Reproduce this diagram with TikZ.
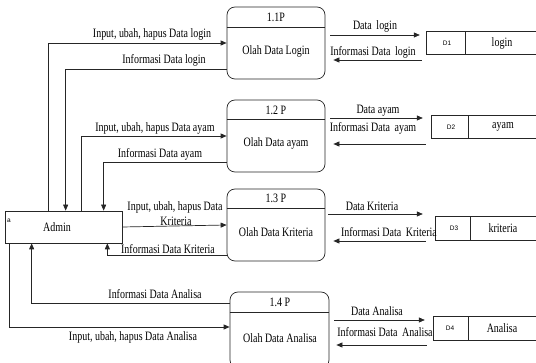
\documentclass[tikz,border=0pt]{standalone}
\usepackage{fontspec}
\setmainfont{Liberation Serif}[FakeStretch=0.78]
\newfontfamily\smallsans{Liberation Sans}
\usetikzlibrary{arrows.meta}
\begin{document}
\begin{tikzpicture}[x=1pt,y=-1pt,
  ln/.style={line width=0.7pt,draw=black!85},
  arr/.style={ln,-{Triangle[length=6pt,width=5pt]}},
  proc/.style={ln,rounded corners=8pt,inner sep=0pt,minimum width=98pt,minimum height=72pt},
  ent/.style={ln,inner sep=0pt,minimum width=117pt,minimum height=32pt},
  store/.style={inner sep=0pt,minimum width=110pt,minimum height=22pt},
  lbl/.style={inner sep=0pt,font=\fontsize{12.8}{13}\selectfont},
  tiny/.style={inner sep=0pt,font=\smallsans\fontsize{6.5}{7}\selectfont}]
\useasboundingbox (0,0) rectangle (536,363);
\clip (0,0) rectangle (536,363);
% processes
\node[proc] (p1) at (276,43) {};
\node[proc] (p2) at (276,136) {};
\node[proc] (p3) at (276,225) {};
\node[proc,minimum width=99pt,minimum height=76pt] (p4) at (279.5,330) {};
\draw[ln] (p1.west |- 0,27) -- (p1.east |- 0,27);
\draw[ln] (p2.west |- 0,119) -- (p2.east |- 0,119);
\draw[ln] (p3.west |- 0,208) -- (p3.east |- 0,208);
\draw[ln] (p4.west |- 0,312) -- (p4.east |- 0,312);
\node[lbl] (p1n) at (276,17) {1.1P};
\node[lbl] (p1t) at (276,51) {Olah Data Login};
\node[lbl] (p2n) at (276,110) {1.2 P};
\node[lbl] (p2t) at (276,143) {Olah Data ayam};
\node[lbl] (p3n) at (276,198) {1.3 P};
\node[lbl] (p3t) at (276,232) {Olah Data Kriteria};
\node[lbl] (p4n) at (280,302) {1.4 P};
\node[lbl] (p4t) at (280,338) {Olah Data Analisa};
% entity
\node[ent] (admin) at (63.5,227) {};
\node[lbl] (admint) at (57,227) {Admin};
\node[tiny] (admina) at (9,221) {a};
% data stores
\node[store] (d1) at (482,43) {};
\node[store,minimum width=105pt] (d2) at (484.5,127) {};
\node[store,minimum width=101pt,minimum height=23pt] (d3) at (486.5,228.5) {};
\node[store,minimum width=103pt,minimum height=23pt] (d4) at (485.5,328.5) {};
\foreach \d/\w in {d1/39,d2/37,d3/35,d4/35}{
  \draw[ln] (\d.north east) -- (\d.north west) -- (\d.south west) -- (\d.south east);
  \draw[ln] ([xshift=\w pt]\d.north west) -- ([xshift=\w pt]\d.south west);
}
\node[tiny] (d1n) at (447,43) {D1};
\node[lbl] (d1t) at (502,43) {login};
\node[tiny] (d2n) at (451,127) {D2};
\node[lbl] (d2t) at (503,127) {ayam};
\node[tiny] (d3n) at (454,228.5) {D3};
\node[lbl] (d3t) at (503,228.5) {kriteria};
\node[tiny] (d4n) at (450,328.5) {D4};
\node[lbl] (d4t) at (502,328.5) {Analisa};
% admin <-> processes
\draw[arr] ([xshift=44pt]admin.north west) |- (p1.west);
\draw[arr] ([yshift=-26pt]p1.west) -| ([xshift=61pt]admin.north west);
\draw[arr] ([xshift=77pt]admin.north west) |- (p2.west);
\draw[arr] ([yshift=-26pt]p2.west) -| ([xshift=99pt]admin.north west);
\draw[arr] (admin.east) -- (p3.west);
\draw[arr] ([yshift=-30pt]p3.west) -| ([xshift=-15pt]admin.south east);
\draw[arr] ([yshift=27pt]p4.west) -| ([xshift=27pt]admin.south west);
\draw[arr] ([xshift=5pt]admin.south west) |- ([yshift=3pt]p4.west);
\node[lbl] (l1) at (152,34) {Input, ubah, hapus Data login};
\node[lbl] (l2) at (164,60) {Informasi Data login};
\node[lbl] (l3) at (155,128) {Input, ubah, hapus Data ayam};
\node[lbl] (l4) at (160,154) {Informasi Data ayam};
\node[lbl] (l5) at (175,207) {Input, ubah, hapus Data};
\node[lbl] (l5b) at (176,221) {Kriteria};
\node[lbl] (l6) at (168,249) {Informasi Data Kriteria};
\node[lbl] (l7) at (155,294) {Informasi Data Analisa};
\node[lbl] (l8) at (133,337) {Input, ubah, hapus Data Analisa};
% processes <-> stores
\draw[arr] ([xshift=5pt,yshift=8pt]p1.east) -- ([xshift=-7pt,yshift=8pt]d1.west);
\draw[arr] ([xshift=-5pt,yshift=-17pt]d1.west) -- ([xshift=8pt,yshift=-17pt]p1.east);
\draw[arr] ([xshift=5pt,yshift=18pt]p2.east) -- ([xshift=-9pt,yshift=9pt]d2.west);
\draw[arr] ([xshift=-6pt,yshift=-17pt]d2.west) -- ([xshift=8pt,yshift=-8pt]p2.east);
\draw[arr] ([xshift=3pt,yshift=11pt]p3.east) -- ([xshift=-13pt,yshift=14.5pt]d3.west);
\draw[arr] ([xshift=-10pt,yshift=-12.5pt]d3.west) -- ([xshift=8pt,yshift=-16pt]p3.east);
\draw[arr] ([xshift=5pt,yshift=10pt]p4.east) -- ([xshift=-9pt,yshift=8.5pt]d4.west);
\draw[arr] ([xshift=-7pt,yshift=-16.5pt]d4.west) -- ([xshift=7pt,yshift=-15pt]p4.east);
\node[lbl] (r1) at (375,26) {Data\, login};
\node[lbl] (r2) at (373,52) {Informasi Data\, login};
\node[lbl] (r3) at (378,111) {Data ayam};
\node[lbl] (r4) at (373,128) {Informasi Data\, ayam};
\node[lbl] (r5) at (372,206) {Data Kriteria};
\node[lbl] (r6) at (389,232) {Informasi Data\, Kriteria};
\node[lbl] (r7) at (377,311) {Data Analisa};
\node[lbl] (r8) at (385,332) {Informasi Data\, Analisa};
\end{tikzpicture}
\end{document}
